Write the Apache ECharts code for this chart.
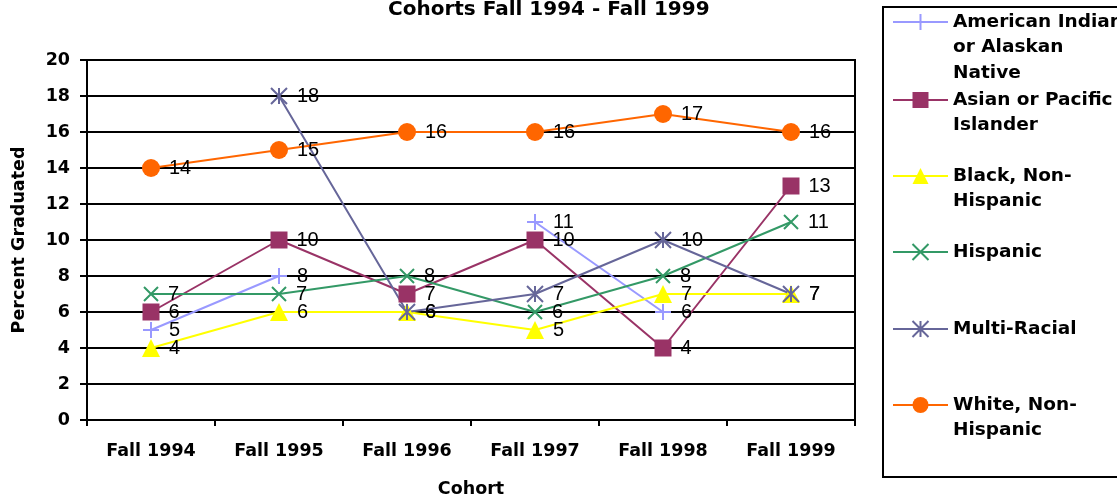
<!DOCTYPE html>
<html>
<head>
<meta charset="utf-8">
<script src="https://cdn.jsdelivr.net/npm/echarts@6/dist/echarts.min.js"></script>
<style>
  html, body { margin: 0; padding: 0; background: #fff; }
  #chart { width: 1117px; height: 500px; }
</style>
</head>
<body>
<div id="chart"></div>
<script>
const cohorts = ['Fall 1994', 'Fall 1995', 'Fall 1996', 'Fall 1997', 'Fall 1998', 'Fall 1999'];
const yTicks = [0, 2, 4, 6, 8, 10, 12, 14, 16, 18, 20];

const americanIndian = [5, 8, null, 11, 6, null];
const asianPacific = [6, 10, 7, 10, 4, 13];
const blackNonHispanic = [4, 6, 6, 5, 7, 7];
const hispanic = [7, 7, 8, 6, 8, 11];
const multiRacial = [null, 18, 6, 7, 10, 7];
const whiteNonHispanic = [14, 15, 16, 16, 17, 16];

const seriesNames = [
  'American Indian or Alaskan Native',
  'Asian or Pacific Islander',
  'Black, Non-Hispanic',
  'Hispanic',
  'Multi-Racial',
  'White, Non-Hispanic'
];
const legendLines = [
  ['American Indian', 'or Alaskan', 'Native'],
  ['Asian or Pacific', 'Islander'],
  ['Black, Non-', 'Hispanic'],
  ['Hispanic'],
  ['Multi-Racial'],
  ['White, Non-', 'Hispanic']
];

const bold = 'DejaVu Sans';
const chart = echarts.init(document.getElementById('chart'));

const plusPath = 'path://M0,-10L0,10M-10,0L10,0';
const crossPath = 'path://M-10,-10L10,10M-10,10L10,-10';
const starPath = 'path://M-10,-10L10,10M-10,10L10,-10M0,-10L0,10';

function makeSeries(name, data, color, symbol, size, stroked) {
  return {
    name: name,
    type: 'line',
    data: data,
    symbol: symbol,
    symbolSize: size,
    connectNulls: false,
    lineStyle: { color: color, width: 2 },
    itemStyle: stroked
      ? { color: color, borderColor: color, borderWidth: 2 }
      : { color: color, borderWidth: 0 },
    label: {
      show: true,
      position: 'right',
      distance: 9,
      color: '#000',
      fontFamily: 'Liberation Sans',
      fontSize: 20
    },
    emphasis: { disabled: true },
    animation: false
  };
}

const series = [
  makeSeries(seriesNames[0], americanIndian, '#9999FF', plusPath, 16, true),
  makeSeries(seriesNames[1], asianPacific, '#993366', 'rect', 17, false),
  makeSeries(seriesNames[2], blackNonHispanic, '#FFFF00', 'triangle', 18, false),
  makeSeries(seriesNames[3], hispanic, '#339966', crossPath, 14, true),
  makeSeries(seriesNames[4], multiRacial, '#666699', starPath, 16, true),
  makeSeries(seriesNames[5], whiteNonHispanic, '#FF6600', 'circle', 18, false)
];

// one legend per entry so the marker sits on the first text line
const legendFirstLineY = [22, 100, 176, 252, 329, 405];
const lineH = 25.5;
const legends = seriesNames.map(function (name, i) {
  const lines = legendLines[i];
  const pad = [];
  for (let k = 0; k < lines.length - 1; k++) pad.push('');
  const totalLines = lines.length * 2 - 1;
  return {
    data: [name],
    left: 892,
    top: legendFirstLineY[i] - totalLines * lineH / 2,
    padding: 0,
    itemWidth: 55,
    itemHeight: 20,
    itemGap: 0,
    selectedMode: false,
    formatter: function () { return pad.concat(lines).join('\n'); },
    textStyle: {
      fontFamily: bold,
      fontWeight: 'bold',
      fontSize: 18.5,
      lineHeight: lineH,
      color: '#000'
    }
  };
});

const option = {
  backgroundColor: '#fff',
  animation: false,
  title: {
    text: 'Cohorts Fall 1994 - Fall 1999',
    left: 388,
    top: 0,
    padding: 0,
    textStyle: { fontFamily: bold, fontWeight: 'bold', fontSize: 20, color: '#000' }
  },
  legend: legends,
  graphic: [{
    type: 'rect',
    shape: { x: 883, y: 7, width: 260, height: 470 },
    style: { fill: 'none', stroke: '#000', lineWidth: 2 },
    z: 0
  }],
  grid: {
    left: 87,
    right: 262,
    top: 60,
    bottom: 80,
    outerBoundsMode: 'none',
    containLabel: false,
    show: true,
    borderColor: '#000',
    borderWidth: 2,
    backgroundColor: 'transparent'
  },
  xAxis: {
    type: 'category',
    data: cohorts,
    boundaryGap: true,
    name: 'Cohort',
    nameLocation: 'middle',
    nameGap: 60,
    nameTextStyle: { fontFamily: bold, fontWeight: 'bold', fontSize: 17.5, color: '#000' },
    axisLine: { lineStyle: { color: '#000', width: 2 } },
    axisTick: { show: true, length: 6, lineStyle: { color: '#000', width: 2 } },
    axisLabel: { fontFamily: bold, fontWeight: 'bold', fontSize: 17.5, color: '#000', margin: 22 },
    splitLine: { show: false }
  },
  yAxis: {
    type: 'value',
    min: yTicks[0],
    max: yTicks[yTicks.length - 1],
    interval: yTicks[1] - yTicks[0],
    name: 'Percent Graduated',
    nameLocation: 'middle',
    nameGap: 59,
    nameRotate: 90,
    nameTextStyle: { fontFamily: bold, fontWeight: 'bold', fontSize: 17.5, color: '#000' },
    axisLine: { show: true, lineStyle: { color: '#000', width: 2 } },
    axisTick: { show: true, length: 7, lineStyle: { color: '#000', width: 2 } },
    axisLabel: { fontFamily: bold, fontWeight: 'bold', fontSize: 17.5, color: '#000', margin: 17 },
    splitLine: { show: true, lineStyle: { color: '#000', width: 2 } }
  },
  series: series
};

chart.setOption(option);
</script>
</body>
</html>
